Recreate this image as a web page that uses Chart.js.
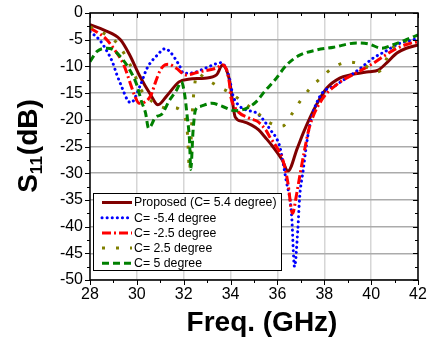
<!DOCTYPE html>
<html>
<head>
<meta charset="utf-8">
<script src="https://cdn.jsdelivr.net/npm/chart.js@4"></script>
<style>
  body { margin: 0; background: #fff; }
  canvas { display: block; }
</style>
</head>
<body>
<canvas id="chart" width="435" height="338"></canvas>
<script>
const FONT = '"Liberation Sans", Arial, sans-serif'

const seriesLabels = [
  'Proposed (C= 5.4 degree)',
  'C= -5.4 degree',
  'C= -2.5 degree',
  'C= 2.5 degree',
  'C= 5 degree'
]

// frequency (GHz) / S11 (dB)
const proposedFreq = [28, 28.6, 29.3, 29.7, 30.1, 30.6, 30.9, 31.3, 31.8, 32.2, 32.9, 33.4, 33.65, 33.95, 34.2, 34.5, 34.9, 35.2, 35.5, 35.8, 36.2, 36.45, 36.85, 37.1, 37.4, 37.7, 38.1, 38.66, 39.1, 39.9, 40.3, 40.65, 41.1, 41.5, 42]
const proposedS11  = [-2.2, -3.2, -5.0, -7.9, -11.6, -15.4, -17.2, -15.4, -12.9, -12.4, -12.2, -11.6, -9.8, -12.5, -19.5, -20.3, -21.0, -21.9, -23.4, -25.0, -27.5, -29.6, -25.3, -22.5, -19.5, -16.9, -14.1, -12.2, -11.6, -11.0, -10.7, -9.4, -7.5, -6.6, -6.0]

const minus54Freq = [28, 28.4, 28.73, 28.95, 29.15, 29.37, 29.6, 29.75, 30.15, 30.44, 30.87, 31.2, 31.4, 31.8, 32.0, 32.4, 33.1, 33.6, 33.8, 33.95, 34.1, 34.4, 34.7, 35.1, 35.4, 35.7, 35.95, 36.1, 36.37, 36.6, 36.73, 36.87, 36.95, 37.1, 37.23, 37.37, 37.8, 38.5, 39.5, 40.1, 40.6, 41.2, 41.8, 42]
const minus54S11  = [-3.5, -5.0, -7.2, -9.1, -11.6, -14.0, -16.3, -16.8, -13.5, -10.3, -7.9, -6.7, -7.2, -9.7, -11.3, -11.2, -10.0, -9.3, -10.3, -12.2, -15.4, -17.5, -18.2, -18.7, -20.0, -21.9, -23.4, -25.0, -31.3, -37.5, -47.5, -40.6, -34.4, -29.4, -25.0, -21.2, -15.7, -13.5, -10.5, -8.4, -7.2, -5.7, -5.0, -4.6]

const minus25Freq = [28, 28.65, 29.0, 29.44, 29.7, 29.9, 30.1, 30.37, 30.6, 30.8, 31.0, 31.2, 31.35, 31.67, 32.1, 32.67, 33.4, 33.66, 33.95, 34.0, 34.16, 34.8, 35.15, 35.5, 35.7, 35.95, 36.23, 36.45, 36.6, 36.65, 36.8, 36.95, 37.16, 37.37, 37.9, 38.5, 39.5, 40.1, 40.5, 41.1, 41.65, 42]
const minus25S11  = [-2.8, -4.7, -6.6, -9.7, -12.9, -15.4, -16.9, -16.6, -15.4, -12.9, -10.7, -9.7, -9.6, -10.3, -11.6, -11.0, -10.3, -9.7, -13.1, -15.4, -17.5, -19.7, -20.3, -21.9, -23.4, -25.0, -27.5, -31.9, -37.0, -37.5, -34.4, -30.6, -25.6, -21.3, -16.2, -13.5, -10.9, -9.4, -8.2, -6.6, -5.7, -5.4]

const plus25Freq = [28, 28.5, 29.1, 29.5, 29.85, 30.2, 30.5, 30.87, 31.3, 31.6, 31.95, 32.15, 32.25, 32.35, 32.45, 32.6, 32.9, 33.5, 34.0, 34.6, 35.1, 35.6, 36.2, 36.65, 37.0, 37.4, 37.9, 38.45, 39.1, 39.65, 40.3, 40.9, 41.7, 42]
const plus25S11  = [-2.6, -3.6, -5.4, -7.9, -11.0, -14.5, -16.0, -17.2, -17.8, -17.8, -18.9, -22.0, -29.5, -20.0, -14.1, -11.3, -12.2, -13.8, -15.0, -16.9, -18.5, -20.4, -21.2, -18.7, -16.3, -14.1, -12.0, -10.0, -9.2, -9.7, -11.0, -6.6, -5.0, -4.7]

const plus5Freq = [28, 28.3, 28.73, 29.0, 29.3, 29.65, 30.0, 30.2, 30.37, 30.5, 30.8, 31.05, 31.4, 31.7, 31.9, 32.03, 32.15, 32.25, 32.3, 32.4, 32.5, 32.7, 33.2, 33.66, 34.2, 34.7, 35.1, 35.45, 35.9, 36.4, 36.95, 37.7, 38.4, 39.4, 39.9, 40.45, 40.9, 41.5, 42]
const plus5S11  = [-9.1, -7.2, -6.6, -6.9, -8.2, -10.3, -13.5, -16.6, -18.7, -21.6, -19.5, -19.0, -16.3, -14.4, -12.9, -15.0, -19.4, -24.0, -29.3, -22.0, -18.2, -17.5, -16.9, -17.5, -18.3, -17.8, -16.6, -14.7, -12.5, -9.7, -7.9, -6.9, -6.4, -5.6, -5.8, -6.6, -6.0, -5.0, -4.1]

const xTicks = [28, 30, 32, 34, 36, 38, 40, 42]
const yTicks = [0, -5, -10, -15, -20, -25, -30, -35, -40, -45, -50]

function points(xs, ys){
  return xs.map((x, i) => ({ x: x, y: ys[i] }))
}

const datasets = [
  { label: seriesLabels[0], data: points(proposedFreq, proposedS11), borderColor: '#800000', borderWidth: 3, borderDash: [] },
  { label: seriesLabels[1], data: points(minus54Freq, minus54S11), borderColor: '#0000ff', borderWidth: 3, borderDash: [0.1, 5], borderCapStyle: 'round' },
  { label: seriesLabels[2], data: points(minus25Freq, minus25S11), borderColor: '#ff0000', borderWidth: 3, borderDash: [9, 3, 2, 3] },
  { label: seriesLabels[3], data: points(plus25Freq, plus25S11), borderColor: '#808000', borderWidth: 3, borderDash: [3, 11] },
  { label: seriesLabels[4], data: points(plus5Freq, plus5S11), borderColor: '#008000', borderWidth: 3, borderDash: [7, 4] }
].reverse()

// frame, ticks, axis titles and the boxed legend
const decorations = {
  id: 'decorations',
  afterDraw(chart){
    const c = chart.ctx
    const a = chart.chartArea
    const xs = chart.scales.x, ys = chart.scales.y
    c.save()
    c.strokeStyle = '#000'
    c.lineWidth = 1.5
    c.strokeRect(a.left, a.top, a.right - a.left, a.bottom - a.top)

    c.lineWidth = 1
    c.beginPath()
    for (let v = 28; v <= 42; v += 1){
      const px = Math.round(xs.getPixelForValue(v)) + 0.5
      const len = v % 2 === 0 ? 5 : 3
      c.moveTo(px, a.bottom); c.lineTo(px, a.bottom + len)
      c.moveTo(px, a.top); c.lineTo(px, a.top + len)
    }
    for (let v = -50; v <= 0; v += 2.5){
      const py = Math.round(ys.getPixelForValue(v)) + 0.5
      const len = v % 5 === 0 ? 5 : 3
      c.moveTo(a.left, py); c.lineTo(a.left - len, py)
      c.moveTo(a.right, py); c.lineTo(a.right - len, py)
    }
    c.stroke()

    // x title
    c.fillStyle = '#000'
    c.font = 'bold 28px ' + FONT
    c.textAlign = 'center'
    c.textBaseline = 'alphabetic'
    c.fillText('Freq. (GHz)', 262, 331)

    // y title with subscript
    c.save()
    c.translate(37, (a.top + a.bottom) / 2)
    c.rotate(-Math.PI / 2)
    c.textAlign = 'left'
    const big = 'bold 28px ' + FONT, small = 'bold 17px ' + FONT
    c.font = big; const wS = c.measureText('S').width, wP = c.measureText('(dB)').width
    c.font = small; const w11 = c.measureText('11').width
    let x0 = -(wS + w11 + wP) / 2
    c.font = big; c.fillText('S', x0, 0)
    c.font = small; c.fillText('11', x0 + wS, 5)
    c.font = big; c.fillText('(dB)', x0 + wS + w11 + 1, 0)
    c.restore()

    // legend
    const box = { x: 93, y: 193, w: 188, h: 77 }
    c.fillStyle = '#fff'
    c.fillRect(box.x, box.y, box.w, box.h)
    c.strokeStyle = '#000'
    c.lineWidth = 1
    c.strokeRect(box.x + 0.5, box.y + 0.5, box.w, box.h)
    c.font = '12.3px ' + FONT
    c.textAlign = 'left'
    c.textBaseline = 'middle'
    seriesLabels.forEach((lab, i) => {
      const ds = chart.data.datasets.find(d => d.label === lab)
      const y = box.y + 9.5 + i * 15.2
      c.save()
      c.strokeStyle = ds.borderColor
      c.lineWidth = ds.borderWidth
      c.lineCap = ds.borderCapStyle || 'butt'
      c.setLineDash(ds.borderDash)
      c.beginPath(); c.moveTo(102, y); c.lineTo(132, y); c.stroke()
      c.restore()
      c.fillStyle = '#000'
      c.fillText(lab, 134, y + 0.5)
    })
    c.restore()
  }
}

new Chart(document.getElementById('chart'), {
  type: 'line',
  data: { datasets: datasets },
  options: {
    responsive: false,
    animation: false,
    devicePixelRatio: 1,
    layout: { padding: { top: 13, right: 17, left: 0, bottom: 0 } },
    plugins: { legend: { display: false }, tooltip: { enabled: false } },
    elements: { point: { radius: 0 }, line: { cubicInterpolationMode: 'monotone', fill: false } },
    scales: {
      x: {
        type: 'linear', min: 28, max: 42,
        afterBuildTicks: s => { s.ticks = xTicks.map(v => ({ value: v })) },
        afterFit: s => { s.height = 58; s.paddingLeft = 0; s.paddingRight = 0 },
        ticks: { color: '#000', font: { family: FONT, size: 16 }, padding: 5, maxRotation: 0 },
        grid: { color: '#d6d6d6', lineWidth: 1.5, drawTicks: false },
        border: { display: false }
      },
      y: {
        type: 'linear', min: -50, max: 0,
        afterBuildTicks: s => { s.ticks = yTicks.map(v => ({ value: v })) },
        afterFit: s => { s.width = 90; s.paddingTop = 0; s.paddingBottom = 0 },
        ticks: { color: '#000', font: { family: FONT, size: 16 }, padding: 7 },
        grid: { color: '#ababab', lineWidth: 1.5, drawTicks: false },
        border: { display: false }
      }
    }
  },
  plugins: [decorations]
})
</script>
</body>
</html>
